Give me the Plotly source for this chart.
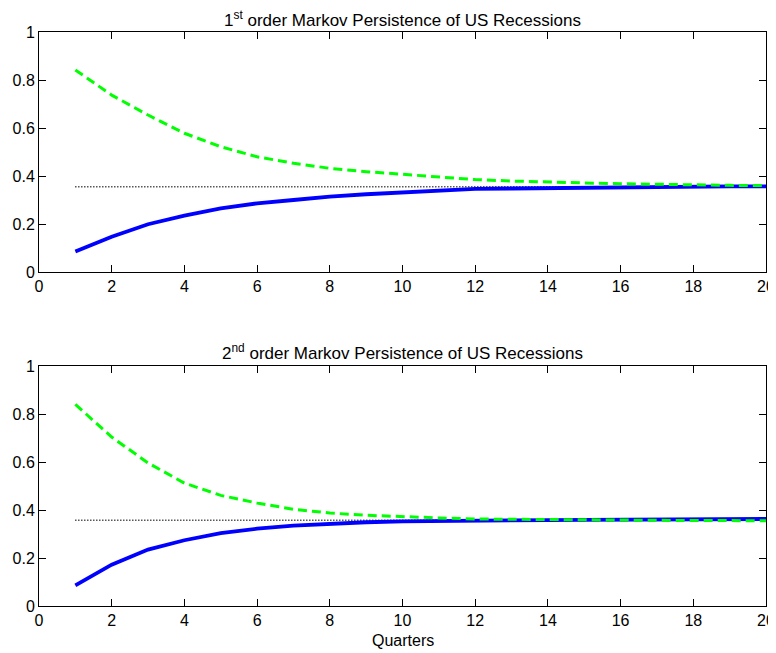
import plotly.graph_objects as go

quarters = list(range(1, 21))

# Panel 1: 1st order Markov
p1_green = [0.842, 0.737, 0.654, 0.578, 0.522, 0.48, 0.453, 0.432, 0.418, 0.406,
            0.395, 0.385, 0.379, 0.374, 0.371, 0.368, 0.365, 0.3625, 0.361, 0.36]
p1_blue = [0.085, 0.147, 0.199, 0.235, 0.265, 0.286, 0.30, 0.314, 0.324, 0.332,
           0.34, 0.346, 0.348, 0.35, 0.352, 0.354, 0.355, 0.356, 0.357, 0.357]
p1_uncond = [0.355] * 20

# Panel 2: 2nd order Markov
p2_green = [0.84, 0.704, 0.596, 0.512, 0.461, 0.429, 0.403, 0.3875, 0.378, 0.371,
            0.367, 0.3625, 0.361, 0.36, 0.359, 0.358, 0.357, 0.356, 0.356, 0.355]
p2_blue = [0.086, 0.172, 0.235, 0.274, 0.304, 0.322, 0.335, 0.343, 0.349, 0.353,
           0.355, 0.357, 0.358, 0.358, 0.359, 0.36, 0.36, 0.361, 0.362, 0.3625]
p2_uncond = [0.357] * 20

titles = ["1<sup>st</sup> order Markov Persistence of US Recessions",
          "2<sup>nd</sup> order Markov Persistence of US Recessions"]
x_ticks = [0, 2, 4, 6, 8, 10, 12, 14, 16, 18, 20]
y_ticks = [0, 0.2, 0.4, 0.6, 0.8, 1]
y_tick_text = ["0", "0.2", "0.4", "0.6", "0.8", "1"]

# page body has an 8px margin, so the figure starts at (8, 8)
OFF = 8
W, H = 776 - OFF, 653 - OFF
xdom = [(39 - OFF) / W, (766 - OFF) / W]
ydom_top = [(H - (272 - OFF)) / H, (H - (32 - OFF)) / H]
ydom_bot = [(H - (606 - OFF)) / H, (H - (366 - OFF)) / H]

FONT = "Liberation Sans, Arial"
TICK_SIZE = 16
TITLE_SIZE = 17

fig = go.Figure()
panels = [(p1_green, p1_blue, p1_uncond, "x", "y"),
          (p2_green, p2_blue, p2_uncond, "x2", "y2")]
for g, b, u, xa, ya in panels:
    fig.add_trace(go.Scatter(x=quarters, y=u, mode="lines", xaxis=xa, yaxis=ya,
                             line=dict(color="black", width=1.5, dash="1px,2px"),
                             showlegend=False))
    fig.add_trace(go.Scatter(x=quarters, y=b, mode="lines", xaxis=xa, yaxis=ya,
                             line=dict(color="#0000FF", width=3.8),
                             showlegend=False))
    fig.add_trace(go.Scatter(x=quarters, y=g, mode="lines", xaxis=xa, yaxis=ya,
                             line=dict(color="#00FF00", width=3, dash="9px,5px"),
                             showlegend=False))

axis_common = dict(showgrid=False, zeroline=False, showline=True, linecolor="black",
                   linewidth=1, mirror="allticks", ticks="inside", ticklen=7,
                   tickcolor="black", automargin=False,
                   tickfont=dict(family=FONT, size=TICK_SIZE, color="black"))

fig.update_layout(
    template="none",
    width=W, height=H,
    margin=dict(l=0, r=0, t=0, b=0, pad=0),
    paper_bgcolor="white", plot_bgcolor="white",
    font=dict(family=FONT, size=TICK_SIZE, color="black"),
    xaxis=dict(domain=xdom, range=[0, 20], tickvals=x_ticks, anchor="y", **axis_common),
    yaxis=dict(domain=ydom_top, range=[0, 1], tickvals=y_ticks, ticktext=y_tick_text,
               anchor="x", **axis_common),
    xaxis2=dict(domain=xdom, range=[0, 20], tickvals=x_ticks, anchor="y2", **axis_common),
    yaxis2=dict(domain=ydom_bot, range=[0, 1], tickvals=y_ticks, ticktext=y_tick_text,
                anchor="x2", **axis_common),
    annotations=[
        dict(text=titles[0], x=(xdom[0] + xdom[1]) / 2, y=ydom_top[1], xref="paper", yref="paper",
             xanchor="center", yanchor="bottom", yshift=1, borderpad=0, showarrow=False,
             font=dict(size=TITLE_SIZE, family=FONT)),
        dict(text=titles[1], x=(xdom[0] + xdom[1]) / 2, y=ydom_bot[1], xref="paper", yref="paper",
             xanchor="center", yanchor="bottom", yshift=2, borderpad=0, showarrow=False,
             font=dict(size=TITLE_SIZE, family=FONT)),
        dict(text="Quarters", x=(xdom[0] + xdom[1]) / 2, y=ydom_bot[0], xref="paper", yref="paper",
             xanchor="center", yanchor="top", yshift=-24, showarrow=False,
             font=dict(size=TICK_SIZE, family=FONT)),
    ],
)

fig.write_html("out.html")
